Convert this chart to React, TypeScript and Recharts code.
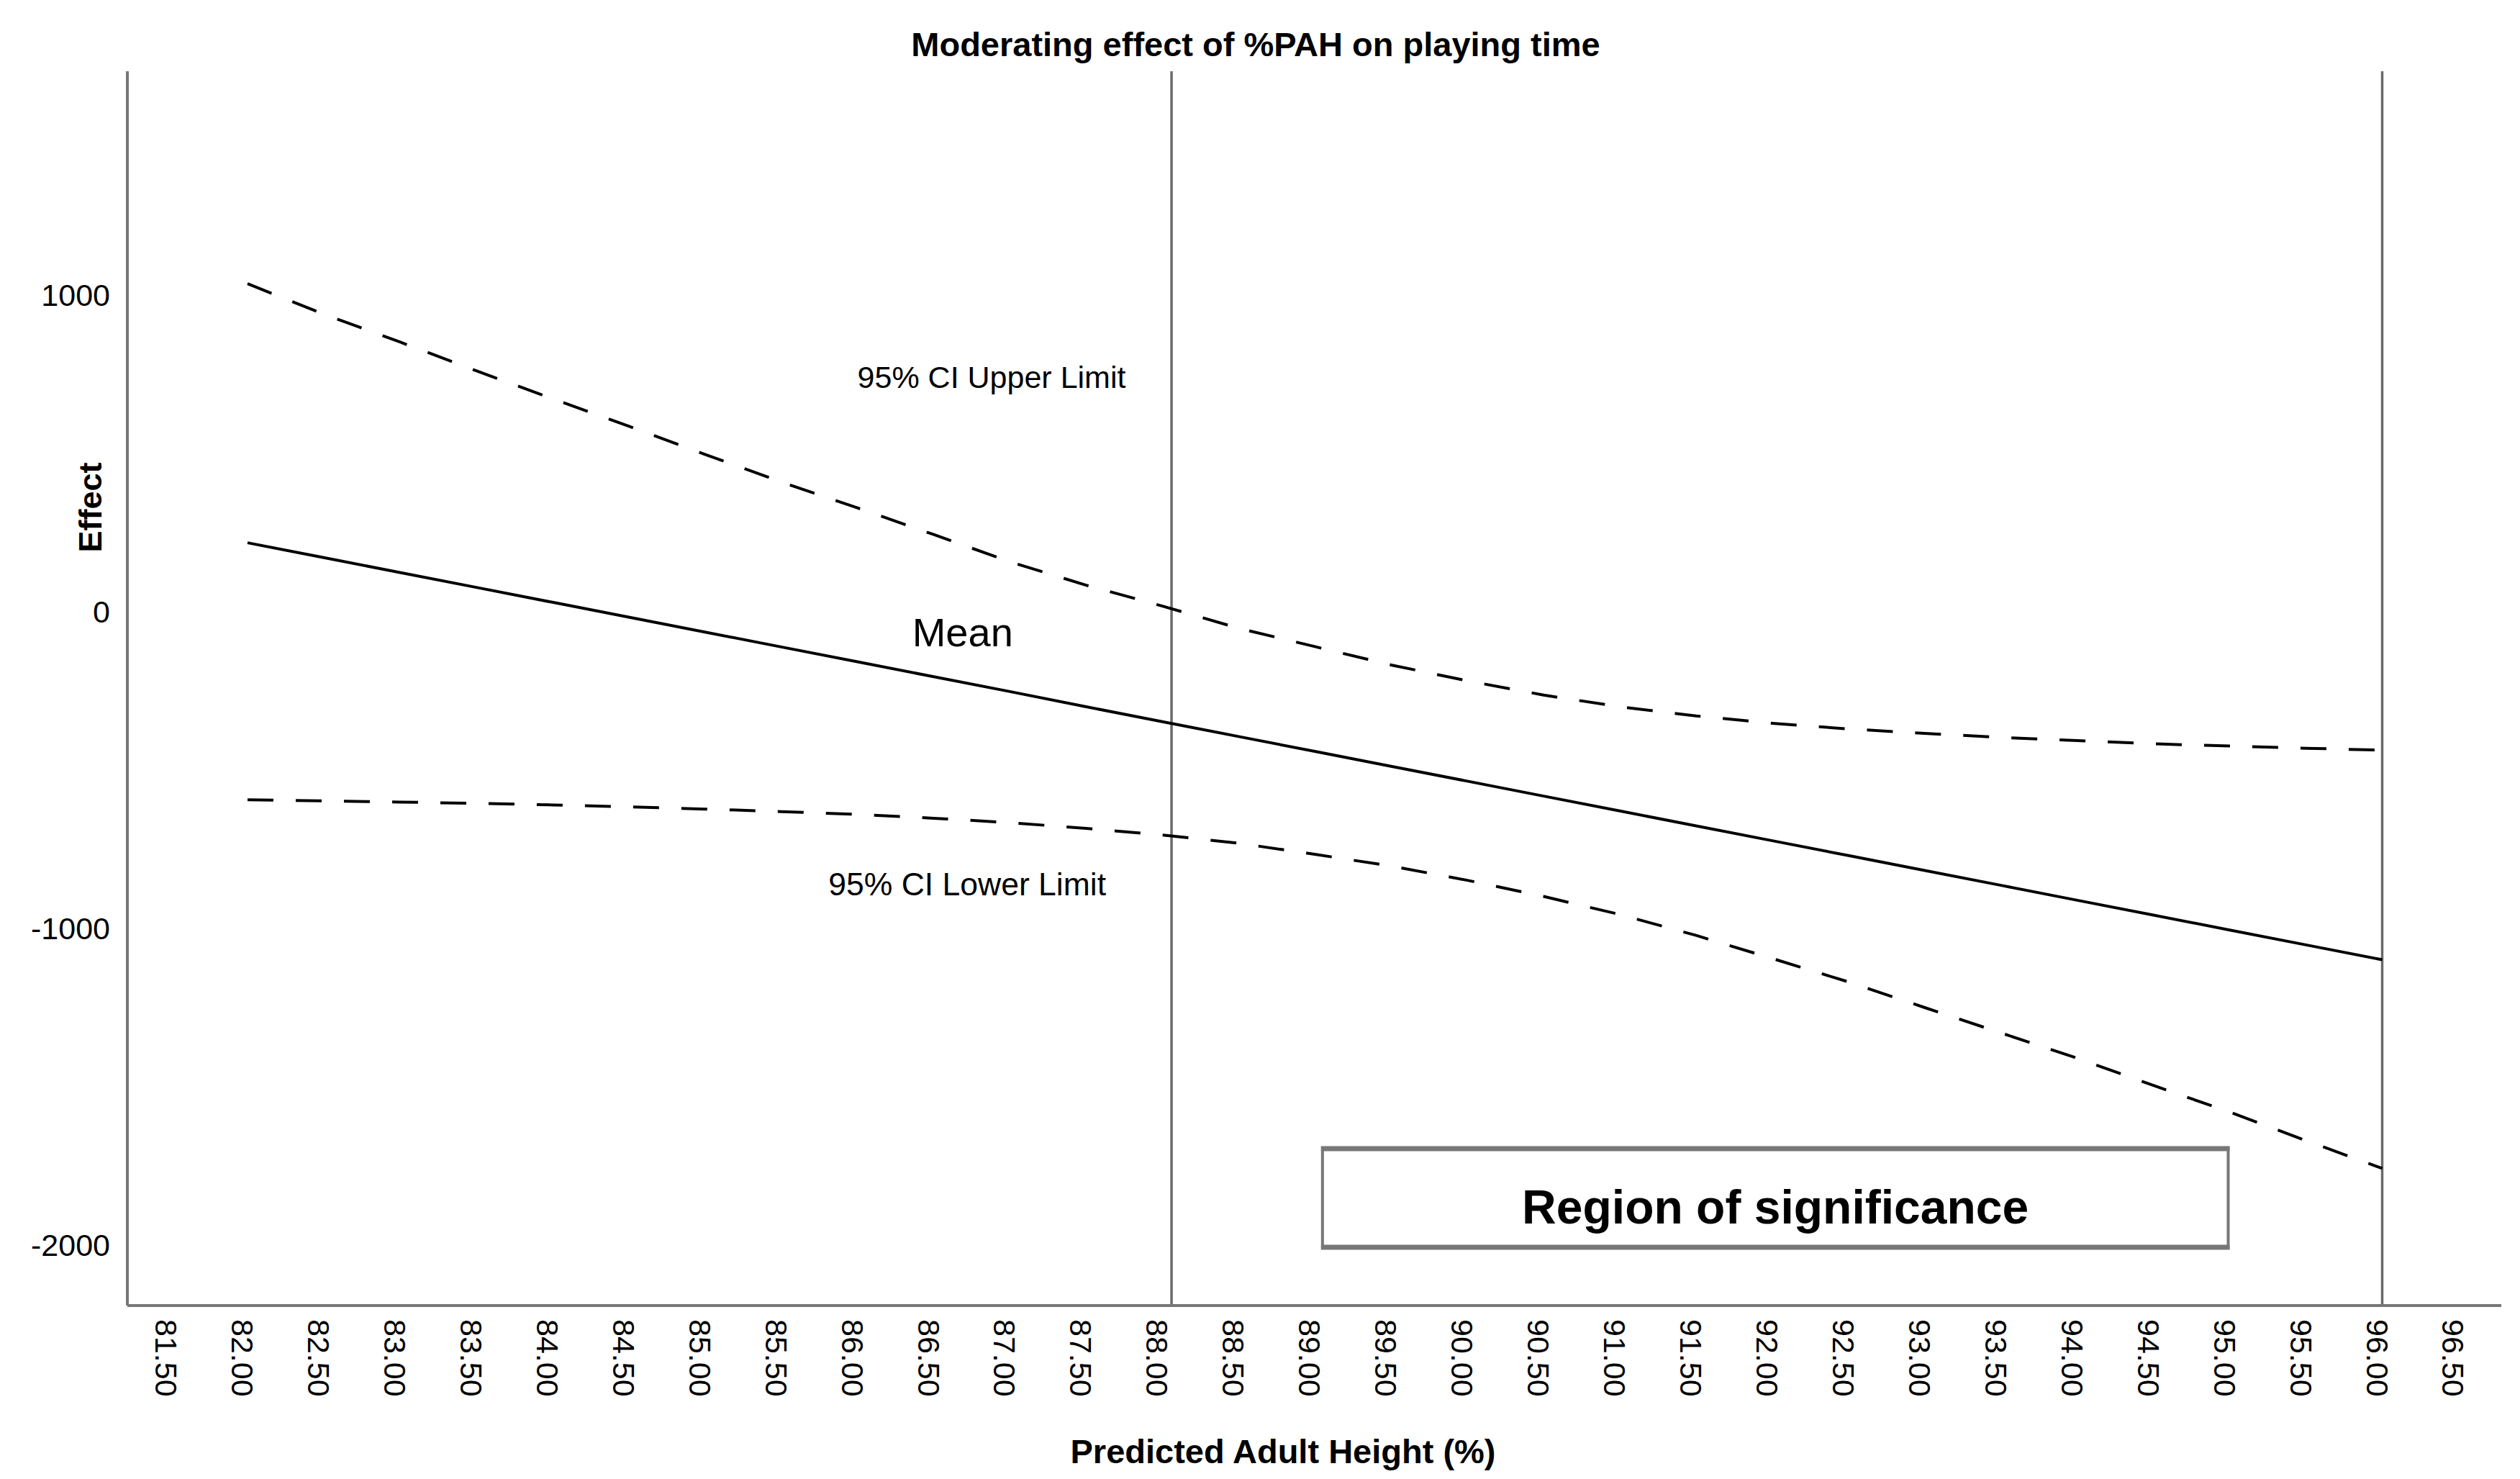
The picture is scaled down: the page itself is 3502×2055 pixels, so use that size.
import React from 'react';
import {
  LineChart,
  Line,
  XAxis,
  YAxis,
  ReferenceLine,
  ReferenceArea,
  ReferenceDot,
} from 'recharts';

// Johnson-Neyman plot, values
const heights = [
  82, 82.5, 83, 83.5, 84, 84.5, 85, 85.5, 86, 86.5, 87, 87.5, 88, 88.5, 89,
  89.5, 90, 90.5, 91, 91.5, 92, 92.5, 93, 93.5, 94, 94.5, 95, 95.5, 96,
];
const meanEffect = [
  218, 171, 124, 77, 30, -17, -64, -111, -158, -205, -252, -300, -347, -394,
  -441, -488, -535, -582, -629, -676, -723, -770, -817, -864, -911, -958,
  -1005, -1052, -1099,
];
const upperLimit = [
  1036, 940, 852, 761, 673, 586, 497, 410, 328, 244, 158, 84, 18, -52, -110,
  -168, -218, -263, -300, -329, -352, -370, -384, -397, -407, -417, -424,
  -431, -437,
];
const lowerLimit = [
  -594, -597, -601, -605, -610, -616, -623, -631, -640, -652, -666, -684,
  -705, -731, -766, -803, -848, -899, -956, -1022, -1095, -1169, -1250,
  -1330, -1410, -1496, -1580, -1670, -1758,
];

const xTicks = [
  81.5, 82, 82.5, 83, 83.5, 84, 84.5, 85, 85.5, 86, 86.5, 87, 87.5, 88, 88.5,
  89, 89.5, 90, 90.5, 91, 91.5, 92, 92.5, 93, 93.5, 94, 94.5, 95, 95.5, 96,
  96.5,
];
const yTicks = [-2000, -1000, 0, 1000];

const jnPoint = 88.06;
const xMax = 96;

const data = heights.map((h, i) => ({
  height: h,
  mean: meanEffect[i],
  upper: upperLimit[i],
  lower: lowerLimit[i],
}));

const FONT = '"Liberation Sans", Arial, sans-serif';
const AXIS_GREY = '#777777';

const XTick = (props: any) => {
  const { x, y, payload } = props;
  const tx = x - 7;
  return (
    <text
      x={tx}
      y={y}
      transform={`rotate(90 ${tx} ${y})`}
      textAnchor="start"
      dominantBaseline="central"
      fontSize={43}
      fontFamily={FONT}
      fill="#000"
    >
      {Number(payload.value).toFixed(2)}
    </text>
  );
};

const lineLabel = (text: string, size: number) => (props: any) => {
  const vb = props.viewBox || {};
  const cx = (vb.x || 0) + (vb.width || 0) / 2;
  const cy = (vb.y || 0) + (vb.height || 0) / 2;
  return (
    <text x={cx} y={cy} textAnchor="middle" fontSize={size} fontFamily={FONT} fill="#000">
      {text}
    </text>
  );
};

const RegionBox = (props: any) => {
  const { x, y, width, height } = props;
  return (
    <g>
      <rect x={x} y={y} width={width} height={height} fill="#fff" stroke={AXIS_GREY} strokeWidth={4} />
      <line x1={x - 2} x2={x + width + 2} y1={y + 1} y2={y + 1} stroke={AXIS_GREY} strokeWidth={7} />
      <line x1={x - 2} x2={x + width + 2} y1={y + height - 1} y2={y + height - 1} stroke={AXIS_GREY} strokeWidth={7} />
      <text
        x={x + width / 2}
        y={y + 105}
        textAnchor="middle"
        fontSize={66}
        fontWeight="bold"
        fontFamily={FONT}
        fill="#000"
      >
        Region of significance
      </text>
    </g>
  );
};

export default function App() {
  const W = 3486;
  const H = 2039;
  return (
    <div style={{ position: 'relative', width: W, height: H, background: '#fff' }}>
      <LineChart
        width={W}
        height={H}
        data={data}
        margin={{ top: 91, right: 18, left: 0, bottom: 0 }}
      >
        <XAxis
          dataKey="height"
          type="number"
          domain={[81.212, 96.781]}
          ticks={xTicks}
          interval={0}
          allowDataOverflow
          tickLine={false}
          tickSize={0}
          tickMargin={19}
          height={233}
          tick={<XTick />}
          axisLine={{ stroke: AXIS_GREY, strokeWidth: 4 }}
        />
        <YAxis
          type="number"
          domain={[-2191, 1707]}
          ticks={yTicks}
          interval={0}
          allowDataOverflow
          tickLine={false}
          tickSize={0}
          tickMargin={24}
          width={169}
          tick={{ fontSize: 43, fill: '#000', fontFamily: FONT }}
          axisLine={{ stroke: AXIS_GREY, strokeWidth: 4 }}
        />
        <ReferenceArea
          x1={89.05}
          x2={94.99}
          y1={-2009}
          y2={-1693}
          shape={<RegionBox />}
          ifOverflow="visible"
        />
        <ReferenceLine x={jnPoint} stroke="#6a6a6a" strokeWidth={3.5} />
        <ReferenceLine x={xMax} stroke="#6a6a6a" strokeWidth={3.5} />
        <Line
          dataKey="upper"
          type="linear"
          stroke="#000"
          strokeWidth={4}
          strokeDasharray="36 31"
          dot={false}
          activeDot={false}
          isAnimationActive={false}
        />
        <Line
          dataKey="mean"
          type="linear"
          stroke="#000"
          strokeWidth={4}
          dot={false}
          activeDot={false}
          isAnimationActive={false}
        />
        <Line
          dataKey="lower"
          type="linear"
          stroke="#000"
          strokeWidth={4}
          strokeDasharray="36 31"
          dot={false}
          activeDot={false}
          isAnimationActive={false}
        />
        <ReferenceDot
          x={86.88}
          y={707}
          r={1}
          fill="none"
          stroke="none"
          ifOverflow="visible"
          label={{ content: lineLabel('95% CI Upper Limit', 43) }}
        />
        <ReferenceDot
          x={86.69}
          y={-109}
          r={1}
          fill="none"
          stroke="none"
          ifOverflow="visible"
          label={{ content: lineLabel('Mean', 56) }}
        />
        <ReferenceDot
          x={86.72}
          y={-895}
          r={1}
          fill="none"
          stroke="none"
          ifOverflow="visible"
          label={{ content: lineLabel('95% CI Lower Limit', 44.5) }}
        />
      </LineChart>
      <svg
        width={W}
        height={H}
        style={{ position: 'absolute', left: 0, top: 0, pointerEvents: 'none' }}
      >
        <text x={1737} y={70} textAnchor="middle" fontSize={47} fontWeight="bold" fontFamily={FONT} fill="#000">
          Moderating effect of %PAH on playing time
        </text>
        <text
          x={117}
          y={697}
          transform="rotate(-90 117 697)"
          textAnchor="middle"
          dominantBaseline="central"
          fontSize={45}
          fontWeight="bold"
          fontFamily={FONT}
          fill="#000"
        >
          Effect
        </text>
        <text x={1775} y={2025} textAnchor="middle" fontSize={47} fontWeight="bold" fontFamily={FONT} fill="#000">
          Predicted Adult Height (%)
        </text>
      </svg>
    </div>
  );
}
